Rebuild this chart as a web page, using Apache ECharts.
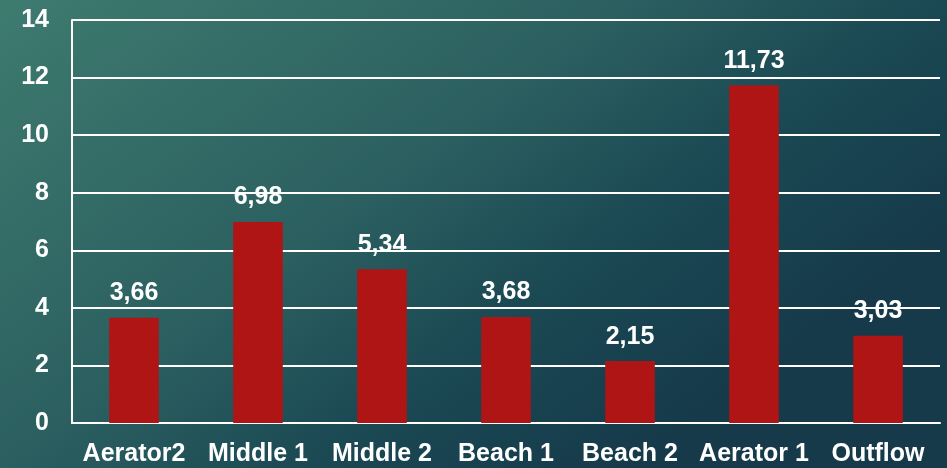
<!DOCTYPE html>
<html><head><meta charset="utf-8">
<script src="https://cdn.jsdelivr.net/npm/echarts@6/dist/echarts.min.js"></script>
<style>html,body{margin:0;padding:0;}#c{width:947px;height:468px;}</style>
</head><body><div id="c"></div>
<script>
const categories = ['Aerator2', 'Middle 1', 'Middle 2', 'Beach 1', 'Beach 2', 'Aerator 1', 'Outflow'];
const values = [3.66, 6.98, 5.34, 3.68, 2.15, 11.73, 3.03];
const yTicks = [0, 2, 4, 6, 8, 10, 12, 14];

const chart = echarts.init(document.getElementById('c'));
chart.setOption({
  backgroundColor: new echarts.graphic.LinearGradient(0, 0, 448, 604, [
    {offset: 0, color: '#3e7b6f'},
    {offset: 0.5, color: '#2b5f60'},
    {offset: 0.75, color: '#1a4853'},
    {offset: 1, color: '#163a4a'}
  ], true),
  animation: false,
  grid: {left: 72, right: 7, top: 20, bottom: 45},
  xAxis: {
    type: 'category',
    data: categories,
    axisLine: {show: true, lineStyle: {color: '#ffffff', width: 2}},
    axisTick: {show: false},
    axisLabel: {color: '#ffffff', fontFamily: 'Liberation Sans, Arial', fontWeight: 'bold', fontSize: 25, margin: 19, interval: 0}
  },
  yAxis: {
    type: 'value',
    min: yTicks[0], max: yTicks[yTicks.length - 1], interval: 2,
    axisLine: {show: true, lineStyle: {color: '#ffffff', width: 2}},
    axisTick: {show: false},
    splitLine: {show: true, lineStyle: {color: '#ffffff', width: 2}},
    axisLabel: {color: '#ffffff', fontFamily: 'Liberation Sans, Arial', fontWeight: 'bold', fontSize: 25, margin: 23}
  },
  series: [{
    type: 'bar',
    data: values,
    barWidth: '40%',
    itemStyle: {color: '#b01515'},
    label: {
      show: true, position: 'top', distance: 12,
      color: '#ffffff', fontFamily: 'Liberation Sans, Arial', fontWeight: 'bold', fontSize: 25,
      formatter: p => p.value.toFixed(2).replace('.', ',')
    }
  }]
});
</script></body></html>
